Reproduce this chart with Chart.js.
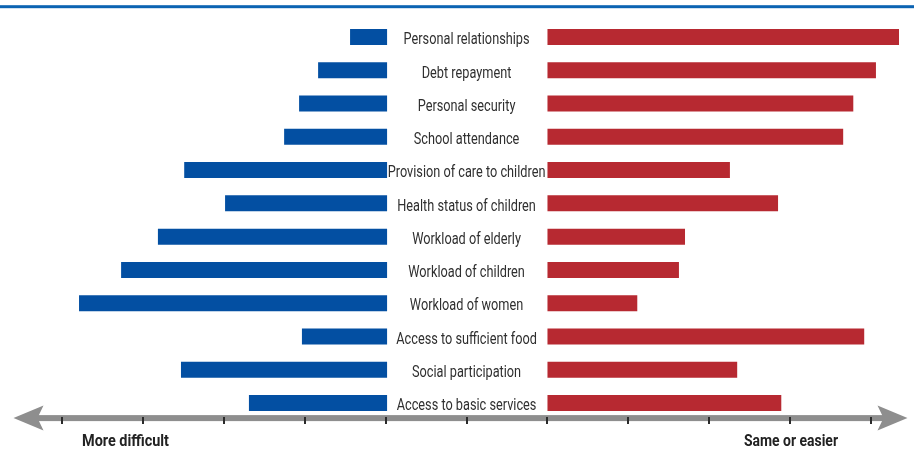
<!DOCTYPE html>
<html>
<head>
<meta charset="utf-8">
<script src="https://cdn.jsdelivr.net/npm/chart.js@4.4.1/dist/chart.umd.min.js"></script>
<style>
  html, body { margin: 0; padding: 0; background: #ffffff; }
  #wrap { width: 914px; height: 455px; }
</style>
</head>
<body>
<div id="wrap"><canvas id="chart" width="914" height="455"></canvas></div>
<script>
// Share of respondents (%) reporting each area as more difficult vs. the same or easier
const categories = [
  'Personal relationships',
  'Debt repayment',
  'Personal security',
  'School attendance',
  'Provision of care to children',
  'Health status of children',
  'Workload of elderly',
  'Workload of children',
  'Workload of women',
  'Access to sufficient food',
  'Social participation',
  'Access to basic services'
];
const moreDifficult = [8.8, 16.7, 21.4, 25.1, 49.8, 39.7, 56.3, 65.4, 75.8, 20.7, 50.6, 33.8];
const sameOrEasier  = [86.9, 81.2, 75.6, 73.1, 45.1, 57.0, 34.0, 32.5, 22.2, 78.3, 46.9, 57.8];

// Axis tick marks along the arrow (in % units either side of the centre)
const tickValues = [-100, -80, -60, -40, -20, 0, 20, 40, 60, 80, 100];
const axisEndLabels = ['More difficult', 'Same or easier'];

// Half-width of the central label column, in axis units
const GAP = 20;
const X_MIN = -112, X_MAX = 109;

const BLUE = '#034fa2';
const RED = '#b72931';
const ARROW_GRAY = '#8e8e8e';
const TEXT = '#2f2f2f';
const LABEL_FONT = '17px Roboto, "Noto Sans", sans-serif';
const BOLD_FONT = 'bold 16px Roboto, "Noto Sans", sans-serif';

// Floating bars: blue grows left from the label column, red grows right
const leftBars = moreDifficult.map(v => [-GAP - v, -GAP + 0.35]);
const rightBars = sameOrEasier.map(v => [GAP, GAP + v]);

const decor = {
  id: 'decor',
  beforeDraw(chart) {
    const ctx = chart.ctx;
    // header rule
    ctx.save();
    ctx.fillStyle = '#0b63b2';
    ctx.fillRect(0, 5.2, chart.width, 3);
    ctx.restore();
  },
  afterDatasetsDraw(chart) {
    const ctx = chart.ctx;
    const xs = chart.scales.x;
    const ys = chart.scales.y;
    const axisY = chart.chartArea.bottom - 1.5;
    const xLeft = xs.getPixelForValue(X_MIN);
    const xRight = xs.getPixelForValue(X_MAX);

    ctx.save();
    // arrow shaft
    ctx.fillStyle = ARROW_GRAY;
    ctx.fillRect(xLeft + 20, axisY - 3, xRight - xLeft - 40, 6);
    // arrow heads
    ctx.beginPath();
    ctx.moveTo(xLeft, axisY);
    ctx.lineTo(xLeft + 30, axisY - 12.5);
    ctx.lineTo(xLeft + 24, axisY);
    ctx.lineTo(xLeft + 30, axisY + 12.5);
    ctx.closePath();
    ctx.fill();
    ctx.beginPath();
    ctx.moveTo(xRight, axisY);
    ctx.lineTo(xRight - 30, axisY - 12.5);
    ctx.lineTo(xRight - 24, axisY);
    ctx.lineTo(xRight - 30, axisY + 12.5);
    ctx.closePath();
    ctx.fill();

    // tick marks
    ctx.strokeStyle = '#2b2b2b';
    ctx.lineWidth = 2;
    tickValues.forEach(v => {
      const px = Math.round(xs.getPixelForValue(v));
      ctx.beginPath();
      ctx.moveTo(px, axisY - 1);
      ctx.lineTo(px, axisY + 6);
      ctx.stroke();
    });

    // category labels in the central column (condensed)
    ctx.fillStyle = TEXT;
    ctx.font = LABEL_FONT;
    ctx.textAlign = 'center';
    ctx.textBaseline = 'alphabetic';
    const squeeze = 126 / ctx.measureText(categories[0]).width;
    const cx = xs.getPixelForValue(0);
    categories.forEach((c, i) => {
      const y = ys.getPixelForValue(i);
      ctx.save();
      ctx.translate(cx, y + 7.3);
      ctx.scale(squeeze, 1);
      ctx.fillText(c, 0, 0);
      ctx.restore();
    });

    // direction labels under the arrow
    ctx.font = BOLD_FONT;
    ctx.fillStyle = '#222222';
    ctx.textAlign = 'left';
    [[axisEndLabels[0], 82, 87], [axisEndLabels[1], 744, 94]].forEach(([t, x, w]) => {
      const s = w / ctx.measureText(t).width;
      ctx.save();
      ctx.translate(x, 446);
      ctx.scale(s, 1);
      ctx.fillText(t, 0, 0);
      ctx.restore();
    });
    ctx.restore();
  }
};

new Chart(document.getElementById('chart'), {
  type: 'bar',
  data: {
    labels: categories,
    datasets: [
      { label: 'More difficult', data: leftBars, backgroundColor: BLUE },
      { label: 'Same or easier', data: rightBars, backgroundColor: RED }
    ]
  },
  options: {
    indexAxis: 'y',
    responsive: false,
    devicePixelRatio: 1,
    animation: false,
    datasets: {
      bar: { grouped: false, barPercentage: 0.481, categoryPercentage: 1, borderWidth: 0 }
    },
    layout: { padding: { top: 20.4, bottom: 35.4, left: 13.5, right: 6.5 } },
    scales: {
      x: { type: 'linear', min: X_MIN, max: X_MAX, display: false },
      y: { type: 'category', display: false, offset: true }
    },
    plugins: {
      legend: { display: false },
      tooltip: { enabled: false },
      title: { display: false }
    }
  },
  plugins: [decor]
});
</script>
</body>
</html>
